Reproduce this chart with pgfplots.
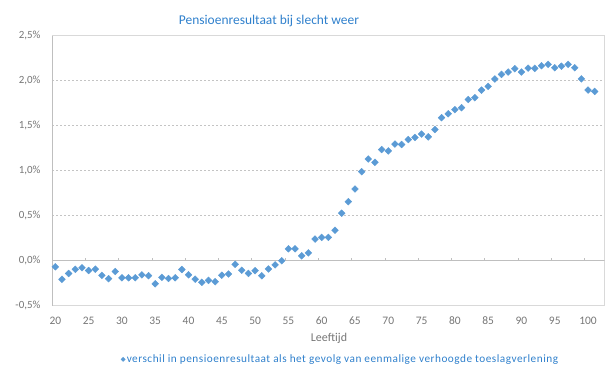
\documentclass[border=0pt]{standalone}
\usepackage{fontspec}
\setmainfont{Carlito}
\usepackage{pgfplots}
\usepackage{pgfplotstable}
\pgfplotsset{compat=1.18}
\definecolor{ptblue}{RGB}{91,155,213}
\definecolor{ttblue}{RGB}{47,128,204}
\definecolor{lblgray}{RGB}{118,118,118}
\definecolor{framegray}{RGB}{217,217,217}
\definecolor{gridgray}{RGB}{196,196,196}
\definecolor{axgray}{RGB}{191,191,191}
\pgfplotstableread{
age val
20 -0.068
21 -0.207
22 -0.142
23 -0.096
24 -0.078
25 -0.109
26 -0.094
27 -0.163
28 -0.200
29 -0.120
30 -0.190
31 -0.190
32 -0.190
33 -0.157
34 -0.167
35 -0.257
36 -0.185
37 -0.198
38 -0.190
39 -0.098
40 -0.157
41 -0.205
42 -0.240
43 -0.219
44 -0.233
45 -0.161
46 -0.148
47 -0.040
48 -0.106
49 -0.141
50 -0.111
51 -0.168
52 -0.092
53 -0.046
54 0.000
55 0.132
56 0.132
57 0.054
58 0.087
59 0.240
60 0.259
61 0.259
62 0.338
63 0.528
64 0.656
65 0.796
66 0.989
67 1.130
68 1.093
69 1.235
70 1.220
71 1.296
72 1.291
73 1.346
74 1.369
75 1.407
76 1.376
77 1.457
78 1.589
79 1.632
80 1.678
81 1.700
82 1.791
83 1.811
84 1.895
85 1.937
86 2.019
87 2.070
88 2.096
89 2.133
90 2.096
91 2.139
92 2.137
93 2.166
94 2.181
95 2.144
96 2.161
97 2.181
98 2.144
99 2.020
100 1.896
101 1.881
}\datatable
\begin{document}
\begin{tikzpicture}[x=1bp,y=1bp]
\path[use as bounding box] (0,0) rectangle (611,372);
\begin{axis}[
  at={(52bp,66.3bp)}, anchor=south west,
  scale only axis, width=552.7bp, height=270bp,
  xmin=19.5, xmax=102.5, ymin=-0.5, ymax=2.5,
  axis line style={draw=framegray, line width=0.75bp},
  major tick length=0pt,
  xtick={20,25,...,100},
  xticklabels={20,25,30,35,40,45,50,55,60,65,70,75,80,85,90,95,100},
  ytick={-0.5,0,0.5,1,1.5,2,2.5},
  yticklabels={{-0,5\%},{0,0\%},{0,5\%},{1,0\%},{1,5\%},{2,0\%},{2,5\%}},
  xticklabel style={font=\fontsize{11.5}{14}\selectfont, text=lblgray, anchor=north, inner sep=0pt, yshift=-11bp},
  yticklabel style={font=\fontsize{11}{14}\selectfont, text=lblgray, anchor=east, inner sep=0pt, xshift=-11.3bp},
  ymajorgrids,
  grid style={draw=gridgray, line width=0.8bp, dash pattern=on 2bp off 2bp},
  legend style={at={(0.1245,-0.1985)}, anchor=west, draw=none, fill=none,
    font=\fontsize{11.3}{13}\selectfont\addfontfeatures{LetterSpace=4.5}, text=ttblue, inner sep=0pt,
    nodes={inner sep=1.5bp}},
  legend image code/.code={\draw[mark=square*, mark size=1.5bp, mark options={rotate=45, fill=ptblue, draw=ptblue}] plot coordinates {(0pt,0pt)};},
]
\draw[axgray, line width=0.75bp] (axis cs:19.5,-0.5) -- (axis cs:19.5,2.5);
\draw[axgray, line width=0.75bp] (axis cs:19.5,0) -- (axis cs:102.5,0);
\pgfplotsinvokeforeach{-0.5,0,0.5,1,1.5,2,2.5}{
  \draw[axgray, line width=0.75bp] (axis cs:19.5,#1) -- ([xshift=-3bp]axis cs:19.5,#1);
}
\pgfplotsinvokeforeach{24.5,29.5,34.5,39.5,44.5,49.5,54.5,59.5,64.5,69.5,74.5,79.5,84.5,89.5,94.5,99.5}{
  \draw[axgray, line width=0.75bp] (axis cs:#1,0) -- ([yshift=3bp]axis cs:#1,0);
}
\addplot[only marks, color=ptblue, mark=square*, mark size=2.4bp,
  mark options={rotate=45, fill=ptblue, draw=ptblue}]
  table[x=age, y=val]{\datatable};
\addlegendentry{verschil in pensioenresultaat als het gevolg van eenmalige verhoogde toeslagverlening}
\end{axis}
\node[font=\fontsize{13.5}{16}\selectfont, text=ttblue] at (269,351.5) {Pensioenresultaat bij slecht weer};
\node[font=\fontsize{12}{14}\selectfont, text=lblgray] at (329,34) {Leeftijd};
\end{tikzpicture}
\end{document}
